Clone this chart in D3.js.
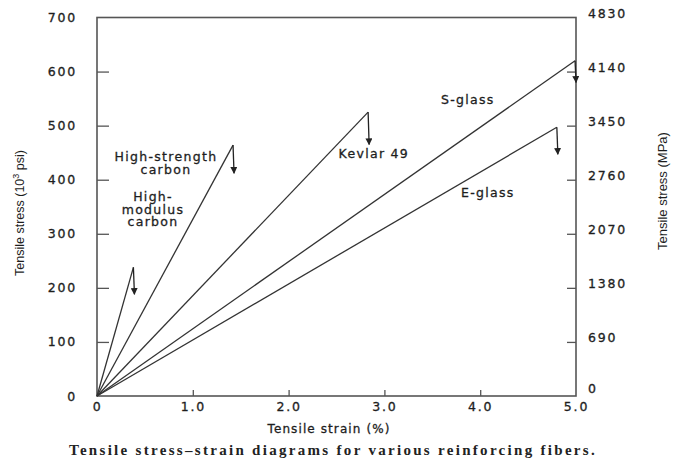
<!DOCTYPE html>
<html>
<head>
<meta charset="utf-8">
<script src="https://cdn.jsdelivr.net/npm/d3@7"></script>
<style>
  body { margin: 0; background: #fff; }
  svg { display: block; }
</style>
</head>
<body>
<div id="chart"></div>
<script>
// fibers and their failure points (strain in %, stress in 10^3 psi)
var fibers = ["High-modulus carbon", "High-strength carbon", "Kevlar 49", "S-glass", "E-glass"];
var failStrain = [0.38, 1.42, 2.83, 4.99, 4.80];
var failStress = [238, 464, 525, 620, 497];
var dropStress = [188, 412, 465, 580, 447];

// tick labels
var strainTicks = [0, 1, 2, 3, 4, 5];
var psiTicks = [0, 100, 200, 300, 400, 500, 600, 700];
var mpaTicks = [0, 690, 1380, 2070, 2760, 3450, 4140, 4830];

var W = 678, H = 459;
var margin = { top: 17.5, right: 102, bottom: 63, left: 97 };

var svg = d3.select("#chart").append("svg")
    .attr("width", W)
    .attr("height", H);

var x = d3.scaleLinear().domain([0, 5]).range([margin.left, W - margin.right]);
var y = d3.scaleLinear().domain([0, 700]).range([H - margin.bottom, margin.top]);
var yMPa = d3.scaleLinear().domain([0, 4830]).range([H - margin.bottom, margin.top]);

var ink = "#1e1e1e";
var sans = "'DejaVu Sans', Arial, sans-serif";

// frame
svg.append("rect")
    .attr("x", x(0))
    .attr("y", y(700))
    .attr("width", x(5) - x(0))
    .attr("height", y(0) - y(700))
    .style("fill", "none")
    .style("stroke", "#555")
    .style("stroke-width", 1.6);

// left axis: ticks pointing inward
var leftAxis = svg.append("g")
    .attr("transform", "translate(" + x(0) + ",0)")
    .call(d3.axisLeft(y).tickValues(psiTicks).tickSize(-12).tickPadding(20).tickFormat(d3.format("d")));

// right axis
var rightAxis = svg.append("g")
    .attr("transform", "translate(" + x(5) + ",0)")
    .call(d3.axisRight(yMPa).tickValues(mpaTicks).tickSize(-9).tickPadding(12).tickFormat(d3.format("d")));

// bottom axis
var bottomAxis = svg.append("g")
    .attr("transform", "translate(0," + y(0) + ")")
    .call(d3.axisBottom(x).tickValues(strainTicks).tickSize(-6).tickPadding(6)
        .tickFormat(function(d) { return d === 0 ? "0" : d3.format(".1f")(d); }));

[leftAxis, rightAxis, bottomAxis].forEach(function(g) {
    g.select(".domain").remove();
    g.selectAll(".tick line").style("stroke", "#555").style("stroke-width", 1.3);
    g.selectAll(".tick text")
        .style("font-family", sans)
        .style("font-size", "12.5px")
        .style("letter-spacing", "1.8px")
        .style("fill", ink)
        .style("stroke", ink)
        .style("stroke-width", 0.3);
});
// the 0/700 ticks coincide with the frame; hide ones at the corners
leftAxis.selectAll(".tick line").filter(function(d) { return d === 0 || d === 700; }).remove();
rightAxis.selectAll(".tick line").filter(function(d) { return d === 0 || d === 4830; }).remove();
bottomAxis.selectAll(".tick line").filter(function(d) { return d === 0 || d === 5; }).remove();
rightAxis.selectAll(".tick text").attr("dy", function(d) { return d === 0 ? "-0.3em" : "0"; });

// stress-strain lines
var line = d3.line()
    .x(function(d) { return x(d[0]); })
    .y(function(d) { return y(d[1]); });

var curves = svg.selectAll(".fiber")
    .data(fibers)
    .enter().append("g")
    .attr("class", "fiber");

curves.append("path")
    .attr("d", function(d, i) {
        return line([[0, 0], [failStrain[i], failStress[i]]]);
    })
    .style("fill", "none")
    .style("stroke", "#333")
    .style("stroke-width", 1.3);

// failure drops with arrowheads
svg.append("defs").append("marker")
    .attr("id", "arrow")
    .attr("viewBox", "0 0 10 10")
    .attr("refX", 9)
    .attr("refY", 5)
    .attr("markerWidth", 7)
    .attr("markerHeight", 7)
    .attr("markerUnits", "userSpaceOnUse")
    .attr("orient", "auto")
    .append("path")
    .attr("d", "M0,0 L10,5 L0,10 z")
    .style("fill", "#222");

curves.append("line")
    .attr("x1", function(d, i) { return x(failStrain[i]); })
    .attr("y1", function(d, i) { return y(failStress[i]); })
    .attr("x2", function(d, i) { return x(failStrain[i]) + 1; })
    .attr("y2", function(d, i) { return y(dropStress[i]); })
    .attr("marker-end", "url(#arrow)")
    .style("stroke", "#222")
    .style("stroke-width", 1.3);

// curve labels, anchored in data units
var labelLines = [
    ["High-", "modulus", "carbon"],
    ["High-strength", "carbon"],
    ["Kevlar 49"],
    ["S-glass"],
    ["E-glass"]
];
var labelAt = [[0.585, 360], [0.72, 434], [2.89, 440], [3.87, 540], [4.08, 368]];

fibers.forEach(function(f, i) {
    var t = svg.append("text")
        .attr("x", x(labelAt[i][0]))
        .attr("y", y(labelAt[i][1]))
        .attr("text-anchor", "middle")
        .style("font-family", sans)
        .style("font-size", "12.5px")
        .style("letter-spacing", "1.3px")
        .style("fill", ink)
        .style("stroke", ink)
        .style("stroke-width", 0.3);
    labelLines[i].forEach(function(s, k) {
        t.append("tspan")
            .attr("x", x(labelAt[i][0]))
            .attr("dy", k === 0 ? 0 : "1em")
            .text(s);
    });
});

// axis titles
svg.append("text")
    .attr("transform", "translate(24,213) rotate(-90)")
    .attr("text-anchor", "middle")
    .style("font-family", "'Liberation Sans Narrow', 'Arial Narrow', sans-serif")
    .style("font-size", "12.5px")
    .style("fill", ink)
    .html("Tensile stress (10<tspan dy='-5' font-size='9px'>3</tspan><tspan dy='5'> psi)</tspan>");

svg.append("text")
    .attr("transform", "translate(667,191) rotate(-90)")
    .attr("text-anchor", "middle")
    .style("font-family", "'Liberation Sans Narrow', 'Arial Narrow', sans-serif")
    .style("font-size", "13px")
    .style("fill", ink)
    .text("Tensile stress (MPa)");

svg.append("text")
    .attr("x", 329)
    .attr("y", 433)
    .attr("text-anchor", "middle")
    .style("font-family", sans)
    .style("font-size", "12px")
    .style("letter-spacing", "1.1px")
    .style("fill", ink)
    .style("stroke", ink)
    .style("stroke-width", 0.3)
    .text("Tensile strain (%)");

// caption
svg.append("text")
    .attr("x", 333)
    .attr("y", 455)
    .attr("text-anchor", "middle")
    .style("font-family", "'Liberation Serif', 'Times New Roman', serif")
    .style("font-size", "15px")
    .style("font-weight", "bold")
    .style("letter-spacing", "2.3px")
    .style("fill", "#222")
    .text("Tensile stress\u2013strain diagrams for various reinforcing fibers.");
</script>
</body>
</html>
